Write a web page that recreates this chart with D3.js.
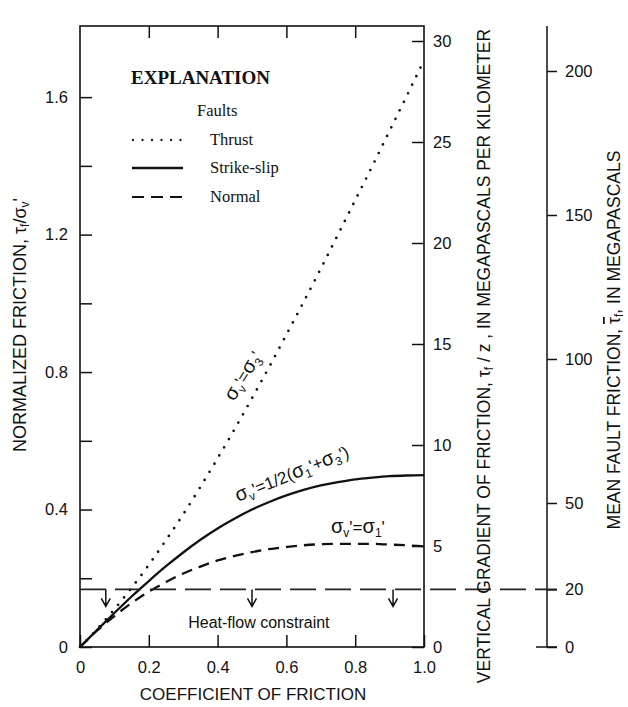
<!DOCTYPE html>
<html>
<head>
<meta charset="utf-8">
<script src="https://cdn.jsdelivr.net/npm/d3@7"></script>
<style>
  body { margin: 0; background: #fff; }
  svg { display: block; }
  text { font-family: "Liberation Sans", Arial, sans-serif; fill: #111; }
  .axis text { font-size: 16.5px; }
  .axis line { stroke: #111; stroke-width: 1.5; }
  .axis path.domain { display: none; }
  .serif { font-family: "Liberation Serif", "Times New Roman", serif; }
</style>
</head>
<body>
<script>
// coefficient of friction (x)
var mu = [0, 0.05, 0.1, 0.15, 0.2, 0.25, 0.3, 0.35, 0.4, 0.45, 0.5,
          0.55, 0.6, 0.65, 0.7, 0.75, 0.8, 0.85, 0.9, 0.95, 1.0];
// normalized friction
var thrust = [0, 0.052, 0.110, 0.172, 0.239, 0.311, 0.386, 0.466, 0.549, 0.635, 0.724,
              0.815, 0.909, 1.004, 1.101, 1.200, 1.300, 1.400, 1.502, 1.604, 1.707];
var strikeSlip = [0, 0.050, 0.099, 0.147, 0.192, 0.235, 0.275, 0.312, 0.345, 0.374, 0.400,
                  0.422, 0.441, 0.457, 0.470, 0.480, 0.488, 0.493, 0.497, 0.499, 0.500];
var normal = [0, 0.048, 0.090, 0.128, 0.161, 0.189, 0.214, 0.234, 0.252, 0.265, 0.276,
              0.285, 0.291, 0.296, 0.299, 0.300, 0.300, 0.300, 0.298, 0.296, 0.293];

// heat-flow constraint (mean fault friction, MPa) and arrow positions
var heatFlow = 20;
var arrowMu = [0.075, 0.5, 0.91];

// tick values
var xTicks = [0, 0.2, 0.4, 0.6, 0.8, 1.0];
var xTopTicks = [0.2, 0.4, 0.6, 0.8];
var yTicks = [0, 0.4, 0.8, 1.2, 1.6];
var yMinorTicks = [0.2, 0.6, 1.0, 1.4];
var gradTicks = [0, 5, 10, 15, 20, 25, 30];
var meanTicks = [0, 20, 50, 100, 150, 200];

var W = 628, H = 707;
var pLeft = 80, pRight = 424, pTop = 26, pBottom = 647;
var axis2X = 547;

var svg = d3.select("body").append("svg")
    .attr("width", W)
    .attr("height", H);

var x = d3.scaleLinear().domain([0, 1]).range([pLeft, pRight]);
var y = d3.scaleLinear().domain([0, 1.807]).range([pBottom, pTop]);
var yGrad = d3.scaleLinear().domain([0, 30]).range([pBottom, 41]);
var yMean = d3.scaleLinear().domain([0, 200]).range([pBottom, 71]);

// frame
svg.append("rect")
    .attr("x", pLeft).attr("y", pTop)
    .attr("width", pRight - pLeft).attr("height", pBottom - pTop)
    .attr("fill", "none").attr("stroke", "#111").attr("stroke-width", 1.6);

// left axis
var fmt = function(d) { return d === 0 ? "0" : d.toFixed(1); };
svg.append("g").attr("class", "axis")
    .attr("transform", "translate(" + pLeft + ",0)")
    .call(d3.axisLeft(y).tickValues(yTicks).tickSize(-12).tickPadding(12).tickFormat(fmt));
svg.append("g").attr("class", "axis")
    .attr("transform", "translate(" + pLeft + ",0)")
    .call(d3.axisLeft(y).tickValues(yMinorTicks).tickSize(-12).tickFormat(""));

// bottom axis
svg.append("g").attr("class", "axis")
    .attr("transform", "translate(0," + pBottom + ")")
    .call(d3.axisBottom(x).tickValues(xTicks).tickSize(-12).tickPadding(14).tickFormat(fmt));
// top ticks
svg.append("g").attr("class", "axis")
    .attr("transform", "translate(0," + pTop + ")")
    .call(d3.axisTop(x).tickValues(xTopTicks).tickSize(-12).tickFormat(""));

// right axis: vertical gradient
svg.append("g").attr("class", "axis")
    .attr("transform", "translate(" + pRight + ",0)")
    .call(d3.axisRight(yGrad).tickValues(gradTicks).tickSize(-12).tickPadding(9));

// far right axis: mean fault friction
var g2 = svg.append("g").attr("class", "axis")
    .attr("transform", "translate(" + axis2X + ",0)")
    .call(d3.axisRight(yMean).tickValues(meanTicks).tickSize(10).tickPadding(8));
g2.append("line").attr("x1", 0).attr("x2", 0).attr("y1", pTop).attr("y2", pBottom);
g2.append("line").attr("x1", -11).attr("x2", 10).attr("y1", pBottom).attr("y2", pBottom);

// curves
var line = d3.line()
    .x(function(d) { return x(d[0]); })
    .y(function(d) { return y(d[1]); })
    .curve(d3.curveMonotoneX);

svg.append("path")
    .attr("d", line(d3.zip(mu, thrust)))
    .attr("fill", "none").attr("stroke", "#111")
    .attr("stroke-width", 2.7).attr("stroke-linecap", "round")
    .attr("stroke-dasharray", "0,9.5");
svg.append("path")
    .attr("d", line(d3.zip(mu, strikeSlip)))
    .attr("fill", "none").attr("stroke", "#111").attr("stroke-width", 2.3);
svg.append("path")
    .attr("d", line(d3.zip(mu, normal)))
    .attr("fill", "none").attr("stroke", "#111")
    .attr("stroke-width", 2.3).attr("stroke-dasharray", "11,7");

// heat-flow constraint
var hy = yMean(heatFlow);
svg.append("line")
    .attr("x1", pLeft).attr("x2", axis2X + 10)
    .attr("y1", hy).attr("y2", hy)
    .attr("stroke", "#222").attr("stroke-width", 1.6)
    .attr("stroke-dasharray", "26,9");
arrowMu.forEach(function(m) {
  var ax = x(m);
  svg.append("path")
      .attr("d", "M" + ax + "," + hy + "V" + (hy + 17) +
                 "M" + (ax - 4.5) + "," + (hy + 9) + "L" + ax + "," + (hy + 17) + "L" + (ax + 4.5) + "," + (hy + 9))
      .attr("fill", "none").attr("stroke", "#111").attr("stroke-width", 1.5);
});
svg.append("text")
    .attr("x", x(0.52)).attr("y", 628)
    .attr("text-anchor", "middle").style("font-size", "16px")
    .text("Heat-flow constraint");

// legend
var lg = svg.append("g");
lg.append("text").attr("class", "serif")
    .attr("x", 131).attr("y", 84)
    .style("font-size", "19px").style("font-weight", "bold")
    .text("EXPLANATION");
lg.append("text").attr("class", "serif")
    .attr("x", 197).attr("y", 116).style("font-size", "16.5px")
    .text("Faults");
var legendItems = [
  {name: "Thrust", y: 140, dash: "0,9.5", cap: "round", w: 2.3},
  {name: "Strike-slip", y: 168, dash: null, cap: "butt", w: 2.7},
  {name: "Normal", y: 197, dash: "12,7", cap: "butt", w: 2.1}
];
legendItems.forEach(function(d) {
  lg.append("line")
      .attr("x1", d.cap === "round" ? 133 : 132).attr("x2", 183)
      .attr("y1", d.y).attr("y2", d.y)
      .attr("stroke", "#111").attr("stroke-width", d.w)
      .attr("stroke-linecap", d.cap)
      .attr("stroke-dasharray", d.dash);
  lg.append("text").attr("class", "serif")
      .attr("x", 210).attr("y", d.y + 5).style("font-size", "16.5px")
      .text(d.name);
});

// curve annotations
function sigma(t, sub, prime) {
  t.append("tspan").style("font-size", "20px").text("σ");
  t.append("tspan").attr("dy", 4).style("font-size", "12px").text(sub);
  t.append("tspan").attr("dy", -4).text(prime ? "'" : "");
}
var a1 = svg.append("text")
    .attr("transform", "translate(234,402) rotate(-58)")
    .style("font-size", "17px");
sigma(a1, "v", true); a1.append("tspan").text("=");
sigma(a1, "3", true);

var a2 = svg.append("text")
    .attr("transform", "translate(238,502) rotate(-22)")
    .style("font-size", "17px");
sigma(a2, "v", true); a2.append("tspan").text("=1/2(");
sigma(a2, "1", true); a2.append("tspan").text("+");
sigma(a2, "3", true); a2.append("tspan").text(")");

var a3 = svg.append("text")
    .attr("transform", "translate(331,533)")
    .style("font-size", "17px");
sigma(a3, "v", true); a3.append("tspan").text("=");
sigma(a3, "1", true);

// axis titles
svg.append("text")
    .attr("x", (pLeft + pRight) / 2 + 1).attr("y", 700)
    .attr("text-anchor", "middle").style("font-size", "17px")
    .text("COEFFICIENT OF FRICTION");

var t1 = svg.append("text")
    .attr("transform", "translate(26,325) rotate(-90)")
    .attr("text-anchor", "middle").style("font-size", "18px");
t1.append("tspan").text("NORMALIZED FRICTION, τ");
t1.append("tspan").attr("dy", 3).style("font-size", "12px").text("f");
t1.append("tspan").attr("dy", -3).text("/σ");
t1.append("tspan").attr("dy", 3).style("font-size", "12px").text("v");
t1.append("tspan").attr("dy", -3).text("'");

var t2 = svg.append("text")
    .attr("transform", "translate(490,356) rotate(-90)")
    .attr("text-anchor", "middle").style("font-size", "17.5px");
t2.append("tspan").text("VERTICAL GRADIENT OF FRICTION,  τ");
t2.append("tspan").attr("dy", 3).style("font-size", "12px").text("f");
t2.append("tspan").attr("dy", -3).text(" / z , IN MEGAPASCALS PER KILOMETER");

var t3 = svg.append("text")
    .attr("transform", "translate(620,340) rotate(-90)")
    .attr("text-anchor", "middle").style("font-size", "17.5px");
t3.append("tspan").text("MEAN FAULT FRICTION, ");
t3.append("tspan").style("text-decoration", "overline").text("τ");
t3.append("tspan").attr("dy", 3).style("font-size", "12px").text("f");
t3.append("tspan").attr("dy", -3).text(", IN MEGAPASCALS");
</script>
</body>
</html>
